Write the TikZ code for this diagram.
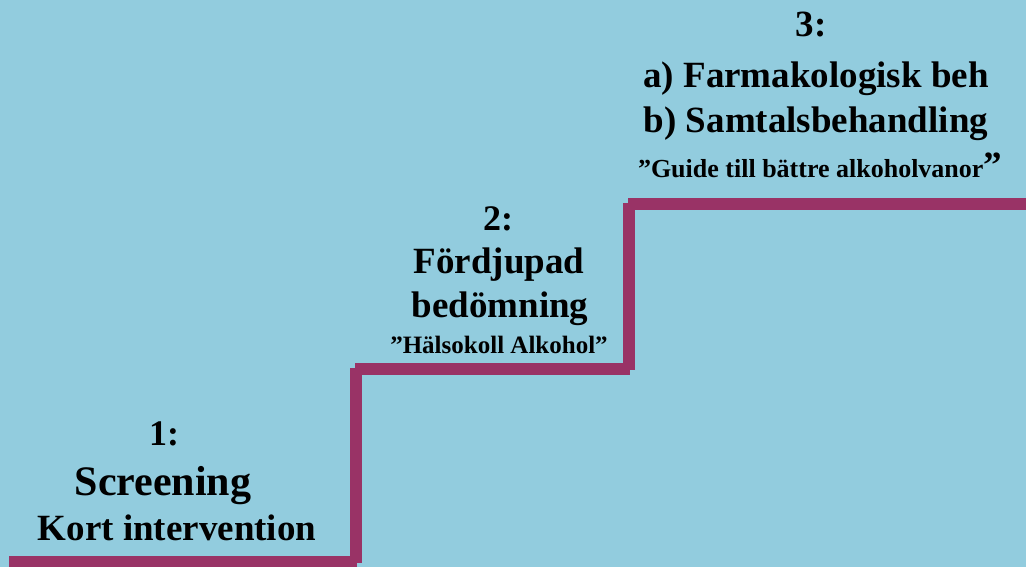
\documentclass[tikz,border=0pt]{standalone}
\usepackage{fontspec}
\setmainfont{Liberation Serif}
\definecolor{bgblue}{RGB}{146,204,222}
\definecolor{stairc}{RGB}{153,51,102}
\newcommand{\fsz}[1]{\fontsize{#1}{#1}\selectfont}
\begin{document}
\begin{tikzpicture}[x=1pt,y=-1pt,
  stair/.style={draw=stairc,line width=7pt,line join=miter,line cap=butt},
  lbl/.style={anchor=base,inner sep=0pt,font=\bfseries,text=black}]
\fill[bgblue] (0,0) rectangle (1026,567);
\useasboundingbox (0,0) rectangle (1026,567);
% staircase (two offset strokes)
\coordinate (a0) at (9,559.5);
\coordinate (a1) at (358.5,559.5);
\coordinate (a2) at (358.5,366.5);
\coordinate (a3) at (631.5,366.5);
\coordinate (a4) at (631.5,201.5);
\coordinate (a5) at (1030,201.5);
\coordinate (b0) at (9,564.5);
\coordinate (b1) at (353.5,564.5);
\coordinate (b2) at (353.5,371.5);
\coordinate (b3) at (626.5,371.5);
\coordinate (b4) at (626.5,206.5);
\coordinate (b5) at (1030,206.5);
\draw[stair] (a0) -- (a1) -- (a2) -- (a3) -- (a4) -- (a5);
\draw[stair] (b0) -- (b1) -- (b2) -- (b3) -- (b4) -- (b5);
% step 1
\node[lbl] (s1a) at (164,445) {\fsz{36}1:};
\node[lbl] (s1b) at (163,495) {\fsz{42}Screening};
\node[lbl] (s1c) at (177,540) {\fsz{37}Kort intervention};
% step 2
\node[lbl] (s2a) at (498,230) {\fsz{36}2:};
\node[lbl] (s2b) at (499,273) {\fsz{37}Fördjupad};
\node[lbl] (s2c) at (500,317) {\fsz{37}bedömning};
\node[lbl] (s2d) at (499,353) {\fsz{25}”Hälsokoll Alkohol”};
% step 3
\node[lbl] (s3a) at (811,37) {\fsz{37}3:};
\node[lbl] (s3b) at (816,88) {\fsz{37}a) Farmakologisk beh};
\node[lbl] (s3c) at (816,133) {\fsz{37}b) Samtalsbehandling};
\node[lbl] (s3d) at (820,178) {\fsz{26}”Guide till bättre alkoholvanor{\fsz{37}”}};
\end{tikzpicture}
\end{document}
